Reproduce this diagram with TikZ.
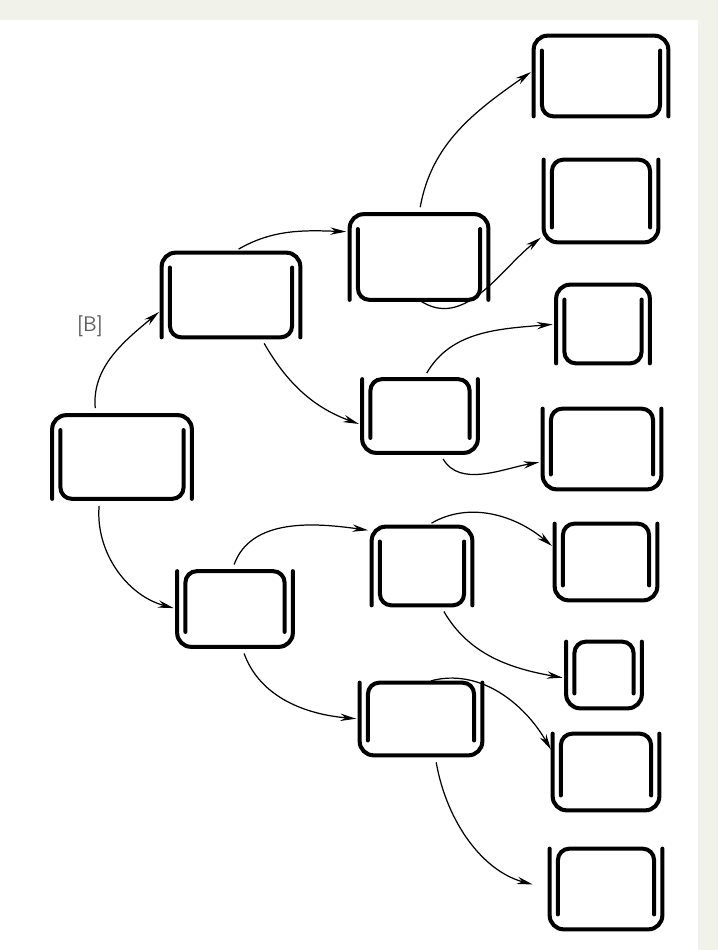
\documentclass[tikz,border=0pt]{standalone}
\usepackage{tikz}
\usetikzlibrary{arrows.meta}

\definecolor{paper}{RGB}{241,242,234}
\definecolor{labelgray}{RGB}{95,95,95}

\tikzset{
  slot/.style 2 args={rectangle, inner sep=0pt, minimum width=#1*0.02cm, minimum height=#2*0.02cm},
  frame/.style={line width=2.3pt, line cap=round},
  arr/.style={-{Stealth[length=9pt, width=4.2pt]}, line width=0.7pt, shorten <=4pt, shorten >=2pt},
}

% A: outer arch on top, inner cup below
\newcommand\crateA[1]{%
  \draw[frame, rounded corners=8pt] (#1.south west) -- (#1.north west) -- (#1.north east) -- (#1.south east);
  \draw[frame, rounded corners=6.5pt] ([xshift=4.7pt, yshift=-8.5pt]#1.north west) -- ([xshift=4.7pt]#1.south west)
    -- ([xshift=-4.7pt]#1.south east) -- ([xshift=-4.7pt, yshift=-8.5pt]#1.north east);}
% B: outer cup below, inner arch on top
\newcommand\crateB[1]{%
  \draw[frame, rounded corners=8pt] (#1.north west) -- (#1.south west) -- (#1.south east) -- (#1.north east);
  \draw[frame, rounded corners=6.5pt] ([xshift=4.7pt, yshift=8.5pt]#1.south west) -- ([xshift=4.7pt]#1.north west)
    -- ([xshift=-4.7pt]#1.north east) -- ([xshift=-4.7pt, yshift=8.5pt]#1.south east);}

\begin{document}
\begin{tikzpicture}[x=0.02cm, y=0.02cm]
  \useasboundingbox (0,0) rectangle (718,-950);
  \fill[paper] (0,0) rectangle (718,-950);
  \fill[white] (0,-20) rectangle (698,-950);

  % level 0 and 1
  \node[slot={139}{83}] (root) at (122,-457) {};
  \node[slot={138}{84}] (u1) at (231,-295) {};
  \node[slot={115}{75}] (l1) at (235,-609) {};
  % level 2
  \node[slot={138}{85}] (uu) at (419,-257) {};
  \node[slot={115}{73}] (ul) at (420,-416) {};
  \node[slot={100}{78}] (lu) at (422,-566) {};
  \node[slot={122}{72}] (ll) at (421,-719) {};
  % leaves
  \node[slot={134}{80}] (leaf1) at (601,-76) {};
  \node[slot={114}{82}] (leaf2) at (601,-201) {};
  \node[slot={93}{78}]  (leaf3) at (603,-324) {};
  \node[slot={118}{80}] (leaf4) at (602,-449) {};
  \node[slot={102}{76}] (leaf5) at (606,-562) {};
  \node[slot={75}{66}]  (leaf6) at (604,-675) {};
  \node[slot={106}{76}] (leaf7) at (606,-772) {};
  \node[slot={112}{80}] (leaf8) at (606,-889) {};

  \crateA{root} \crateA{u1} \crateB{l1}
  \crateA{uu} \crateB{ul} \crateA{lu} \crateB{ll}
  \crateA{leaf1} \crateB{leaf2} \crateA{leaf3} \crateB{leaf4}
  \crateB{leaf5} \crateB{leaf6} \crateB{leaf7} \crateB{leaf8}

  \node[font=\sffamily\large, text=labelgray] (tag) at (90,-326) {[B]};

  \draw[arr] (root.122) to[out=95, in=220] (u1.192);
  \draw[arr] (root.242) to[out=-95, in=165] (l1.180);
  \draw[arr] (u1.88) to[out=30, in=178] (uu.160);
  \draw[arr] (u1.-55) to[out=-60, in=160] (ul.189);
  \draw[arr] (uu.90) to[out=80, in=215] (leaf1.175);
  \draw[arr, shorten <=0pt] (uu.-90) to[out=-35, in=218] (leaf2.211);
  \draw[arr] (ul.85) to[out=60, in=185] (leaf3.180);
  \draw[arr] (ul.-62) to[out=-60, in=190] (leaf4.192);
  \draw[arr] (l1.95) to[out=70, in=172] (lu.145);
  \draw[arr] (l1.-80) to[out=-70, in=175] (ll.180);
  \draw[arr] (lu.85) to[out=30, in=140] (leaf5.165);
  \draw[arr] (lu.-65) to[out=-60, in=170] (leaf6.185);
  \draw[arr] (ll.85) to[out=15, in=120] (leaf7.160);
  \draw[arr, shorten >=10pt] (ll.-69) to[out=-80, in=165] (leaf8.180);
\end{tikzpicture}
\end{document}
